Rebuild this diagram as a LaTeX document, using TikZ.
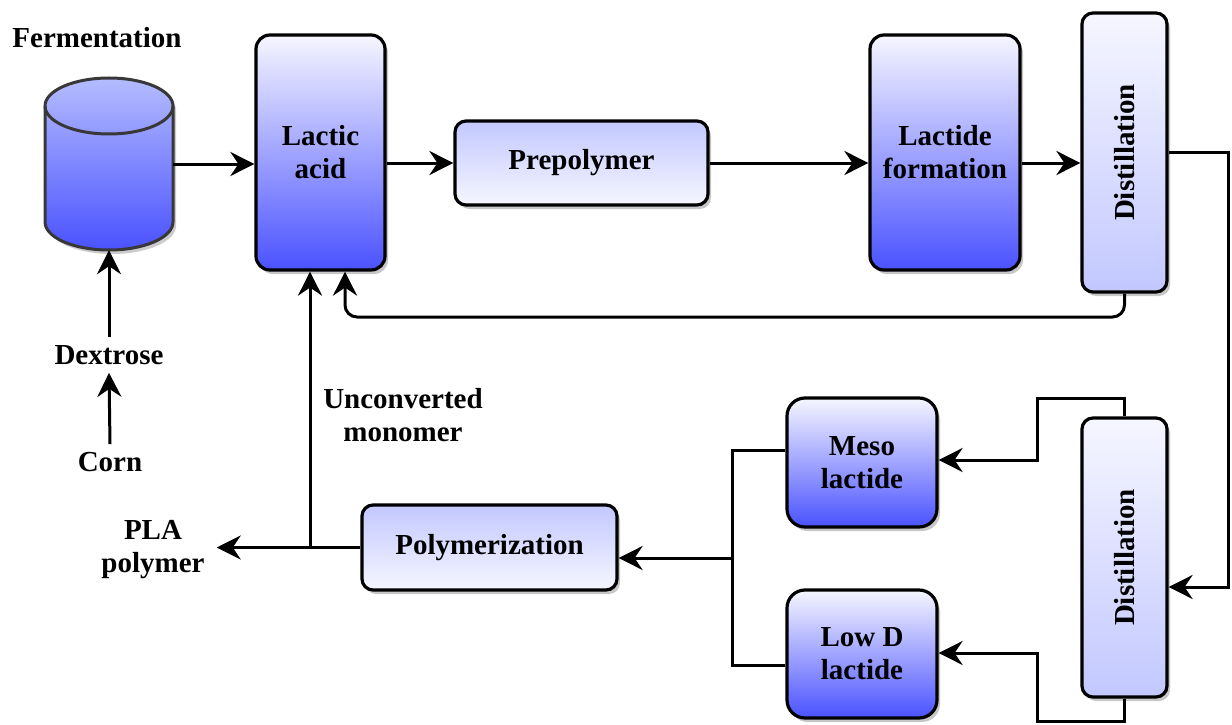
\documentclass[tikz,border=0pt]{standalone}
\usepackage{fontspec}
\setmainfont{Liberation Serif}
\usetikzlibrary{arrows.meta,shadows}
\definecolor{deepb}{HTML}{4A52FF}
\definecolor{paleb}{HTML}{F6F6FF}
\definecolor{midb}{HTML}{C2C8FF}
\definecolor{cyltop}{HTML}{B4BCFF}
\begin{document}
\begin{tikzpicture}[x=1pt,y=-1pt,
  every node/.style={font=\fontsize{29}{33}\selectfont\bfseries, align=center},
  box/.style={draw=black, line width=3.2pt, rounded corners=14pt, inner sep=0pt,
    drop shadow={shadow xshift=3pt, shadow yshift=-4pt, opacity=0.22, fill=black}},
  darkbox/.style={box, top color=paleb, bottom color=deepb},
  lightbox/.style={box, top color=midb, bottom color=paleb},
  distbox/.style={box, top color=paleb, bottom color=midb, rounded corners=11pt},
  lbl/.style={inner sep=8pt},
  ln/.style={line width=3pt},
  arr/.style={ln, -{Stealth[length=24pt,width=24pt,inset=8pt]}}]
\useasboundingbox (0,0) rectangle (1232,725);

% fermentation tank (cylinder)
\fill[black, opacity=0.2] (48,110) -- (48,226) arc[start angle=180,end angle=360,x radius=64pt,y radius=28pt] -- (176,110) arc[start angle=0,end angle=180,x radius=64pt,y radius=28pt] -- cycle;
\shade[top color=cyltop, bottom color=deepb] (45,106) -- (45,222) arc[start angle=180,end angle=360,x radius=64pt,y radius=28pt] -- (173,106) arc[start angle=0,end angle=180,x radius=64pt,y radius=28pt] -- cycle;
\draw[line width=3pt, draw=black!78] (45,106) -- (45,222) arc[start angle=180,end angle=360,x radius=64pt,y radius=28pt] -- (173,106) arc[start angle=0,end angle=180,x radius=64pt,y radius=28pt] -- cycle;
\draw[line width=3pt, draw=black!78] (45,106) arc[start angle=180,end angle=360,x radius=64pt,y radius=28pt];
\node[minimum width=128pt, minimum height=172pt, inner sep=0pt] (ferm) at (109,164) {};

% labels
\node (fermtxt) at (97,38) {Fermentation};
\node[lbl] (dex) at (109,355) {Dextrose};
\node[lbl] (corn) at (110,462) {Corn};
\node[inner sep=12pt] (pla) at (153,550) {PLA\\polymer};
\node (unconv) at (403,415) {Unconverted\\monomer};

% process boxes
\node[darkbox, minimum width=129pt, minimum height=235pt] (lactic) at (320.5,152.5) {Lactic\\acid};
\node[lightbox, minimum width=253pt, minimum height=84pt, rounded corners=11pt] (prep) at (581.5,163) {Prepolymer};
\node[darkbox, minimum width=150pt, minimum height=235pt] (lactide) at (945,152.5) {Lactide\\formation};
\node[distbox, minimum width=85pt, minimum height=279pt] (dist1) at (1124.5,152.5) {\rotatebox{90}{Distillation}};
\node[distbox, minimum width=85pt, minimum height=279pt] (dist2) at (1124.5,557.5) {\rotatebox{90}{Distillation}};
\node[darkbox, minimum width=150pt, minimum height=129pt, rounded corners=18pt] (meso) at (862,462.5) {Meso\\lactide};
\node[darkbox, minimum width=150pt, minimum height=128pt, rounded corners=18pt] (lowd) at (862,654) {Low D\\lactide};
\node[lightbox, minimum width=255pt, minimum height=85pt, rounded corners=11pt] (poly) at (489.5,547.5) {Polymerization};

% helper coordinates
\coordinate (rA) at (1228,152.5);
\coordinate (rB) at (1228,587);
\coordinate (rc) at (345,317);
\coordinate (t1) at (1124.5,398);
\coordinate (t2) at (1037,398);
\coordinate (t3) at (1037,460);
\coordinate (b1) at (1124.5,721);
\coordinate (b2) at (1037,721);
\coordinate (b3) at (1037,653);
\coordinate (m1) at (732,450);
\coordinate (m2) at (732,665);
\coordinate (mj) at (732,558);
\coordinate (uj) at (310,547.5);

% connectors
\draw[arr] (corn.north) -- (dex.south);
\draw[arr] (dex.north) -- (ferm.south);
\draw[arr] (ferm.east) -- (lactic.west |- ferm.east);
\draw[arr] (lactic.east |- prep.west) -- (prep.west);
\draw[arr] (prep.east) -- (lactide.west |- prep.east);
\draw[arr] (lactide.east |- prep.east) -- (dist1.west |- prep.east);
\draw[arr] (dist1.east) -- (rA) -- (rB) -- (dist2.east |- rB);
\draw[arr, rounded corners=12pt] (dist1.south) -- (dist1.south |- rc) -- (rc) -- (rc |- lactic.south);
\draw[arr] (dist2.north) -- (t1) -- (t2) -- (t3) -- (meso.east |- t3);
\draw[arr] (dist2.south) -- (b1) -- (b2) -- (b3) -- (lowd.east |- b3);
\draw[ln] (meso.west |- m1) -- (m1) -- (m2) -- (lowd.west |- m2);
\draw[arr] (mj) -- (poly.east |- mj);
\draw[arr] (poly.west) -- (pla.east |- poly.west);
\draw[arr] (uj) -- (uj |- lactic.south);
\end{tikzpicture}
\end{document}
